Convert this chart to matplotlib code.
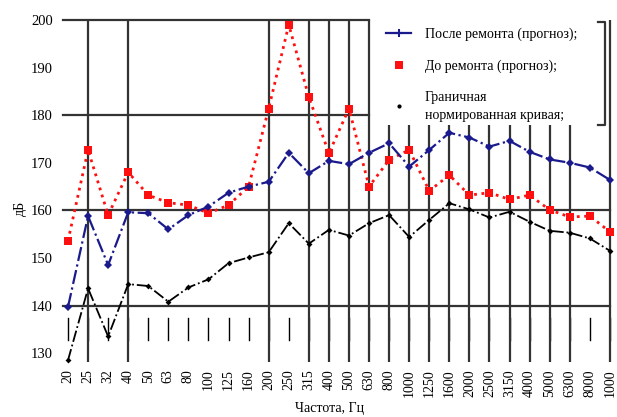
import matplotlib
matplotlib.use("Agg")
import matplotlib.pyplot as plt
from matplotlib.patches import Rectangle
from matplotlib.lines import Line2D

plt.rcParams['font.family'] = ['Liberation Serif', 'DejaVu Serif']

freq_labels = ["20", "25", "32", "40", "50", "63", "80", "100", "125", "160",
               "200", "250", "315", "400", "500", "630", "800", "1000", "1250",
               "1600", "2000", "2500", "3150", "4000", "5000", "6300", "8000", "1000"]
after = [139.7, 158.8, 148.5, 159.6, 159.4, 156.0, 159.0, 160.8, 163.7, 165.0,
         166.0, 172.1, 167.8, 170.4, 169.7, 172.1, 174.1, 169.2, 172.7, 176.3,
         175.3, 173.4, 174.6, 172.3, 170.7, 170.0, 169.0, 166.4]
before = [153.6, 172.7, 159.0, 168.0, 163.2, 161.6, 161.1, 159.4, 161.1, 165.0,
          181.4, 199.0, 183.8, 172.0, 181.4, 165.0, 170.6, 172.7, 164.1, 167.4,
          163.2, 163.7, 162.3, 163.2, 160.1, 158.6, 158.8, 155.5]
limit = [128.5, 143.6, 133.5, 144.5, 144.1, 140.8, 143.8, 145.5, 148.9, 150.1,
         151.2, 157.3, 153.0, 155.9, 154.7, 157.3, 159.0, 154.4, 158.0, 161.5,
         160.2, 158.5, 159.7, 157.6, 155.7, 155.3, 154.1, 151.5]
y_ticks = [130, 140, 150, 160, 170, 180, 190, 200]
full_grid_labels = ["25", "40", "200", "315", "400", "500", "630", "800", "1000",
                    "1250", "1600", "2000", "2500", "3150", "4000", "5000", "6300"]
legend_labels = ["После ремонта (прогноз);",
                 "До ремонта (прогноз);",
                 "Граничная\nнормированная кривая;"]

fig = plt.figure(figsize=(6.17, 4.17), dpi=100)
ax = fig.add_axes([0.0972, 0.1247, 0.8978, 0.8321])
x = list(range(len(freq_labels)))
n = len(x)

grid_c = '#333333'
# horizontal grid lines
for yv in (140, 160):
    ax.plot([-0.25, n - 1], [yv, yv], color=grid_c, lw=1.6, zorder=1, clip_on=False)
for yv in (180, 200):
    ax.plot([-0.25, 15], [yv, yv], color=grid_c, lw=1.6, zorder=1, clip_on=False)
# short ticks
for i in x:
    ax.plot([i, i], [132.8, 137.4], color='black', lw=1.0, zorder=1)
# full vertical lines
for i, lab in enumerate(freq_labels):
    if lab in full_grid_labels and i < n - 1:
        ax.plot([i, i], [128.1, 200], color=grid_c, lw=1.6, zorder=1,
                solid_capstyle='butt')
ax.plot([n - 1, n - 1], [128.1, 200], color=grid_c, lw=1.6, zorder=1,
        solid_capstyle='butt')

# legend background
ax.add_patch(Rectangle((15.15, 177.9), 11.55, 23.0, facecolor='white',
                       edgecolor='none', zorder=2, clip_on=False))
# legend bracket
ax.plot([26.4, 26.76, 26.76, 26.4], [199.6, 199.6, 177.9, 177.9],
        color=grid_c, lw=1.6, zorder=3, clip_on=False)

ax.plot(x, before, linestyle=':', color='#ff1010', lw=2.0, marker='s',
        markersize=6, markeredgewidth=0, zorder=4)
ax.plot(x, after, linestyle='-.', color='#1a1a8c', lw=1.6, marker='D',
        markersize=4.5, markeredgewidth=0, zorder=5)
ax.plot(x, limit, linestyle='-.', color='black', lw=1.3, marker='D',
        markersize=3, markeredgewidth=0, zorder=5)

ax.set_xlim(-0.4, 27.2)
ax.set_ylim(127.5, 200.42)
ax.set_xticks(x)
ax.set_xticklabels(freq_labels, rotation=90, fontsize=10)
ax.set_yticks(y_ticks)
ax.set_yticklabels([str(v) for v in y_ticks], fontsize=10.5)
ax.tick_params(axis='both', length=0)
ax.tick_params(axis='x', pad=3)
ax.tick_params(axis='y', pad=5)
for s in ax.spines.values():
    s.set_visible(False)

ax.set_xlabel("Частота, Гц", fontsize=10)
ax.xaxis.label.set_va('center')
ax.xaxis.set_label_coords(0.487, -0.125)
ax.set_ylabel("дБ", fontsize=10)
ax.yaxis.set_label_coords(-0.06, 0.45)

handles = [Line2D([], [], color='#1a1a8c', lw=1.6, marker='+', markersize=6,
                  markeredgewidth=1.5),
           Line2D([], [], color='#ff1010', lw=0, marker='s', markersize=6,
                  markeredgewidth=0),
           Line2D([], [], color='black', lw=0, marker='o', markersize=3,
                  markeredgewidth=0)]
leg = ax.legend(handles, legend_labels, loc='upper left',
                bbox_to_anchor=(386 / 617, 1 - 28 / 417),
                bbox_transform=fig.transFigure, frameon=False, fontsize=10,
                labelspacing=1.3, handlelength=1.8, handletextpad=1.0,
                borderaxespad=0, borderpad=0)
for t in leg.get_texts():
    t.set_linespacing(1.45)
leg.set_zorder(6)

fig.savefig("out.png", dpi=100)
